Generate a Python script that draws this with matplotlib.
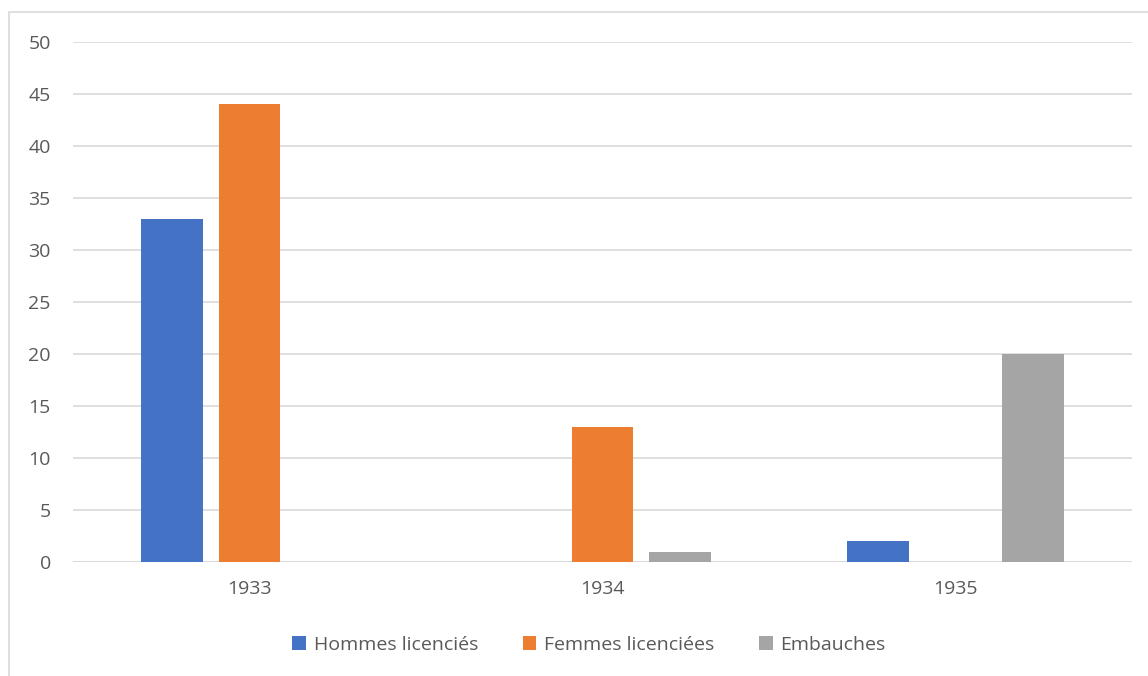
import numpy as np
import matplotlib.pyplot as plt
from matplotlib.patches import Rectangle

years = ['1933', '1934', '1935']
hommes = [33, 0, 2]
femmes = [44, 13, 0]
embauches = [0, 1, 20]
series_names = ['Hommes licenciés', 'Femmes licenciées', 'Embauches']
colors = ['#4472C4', '#ED7D31', '#A5A5A5']

plt.rcParams['font.family'] = ['Open Sans', 'DejaVu Sans']

W, H = 1148, 676
fig = plt.figure(figsize=(W / 100, H / 100), dpi=100)
ax = fig.add_axes([73 / W, 1 - 562 / H, (1132 - 73) / W, (562 - 42) / H])

# chart border
fig.patches.append(Rectangle((9 / W, -0.1), 1.2, 1.1 - 12 / H, transform=fig.transFigure,
                             fill=False, edgecolor='#D9D9D9', lw=1.2))

x = np.arange(len(years))
bw = 0.175
step = 0.22
for i, (vals, name, c) in enumerate(zip([hommes, femmes, embauches], series_names, colors)):
    ax.bar(x + (i - 1) * step, vals, width=bw, color=c, label=name, zorder=3)

ax.set_xlim(-0.5, 2.5)
ax.set_ylim(0, 50)
ax.set_yticks(range(0, 51, 5))
ax.set_xticks(x)
ax.set_xticklabels(years)
ax.grid(axis='y', color='#D9D9D9', lw=1.2, zorder=0)
for s in ax.spines.values():
    s.set_visible(False)
ax.axhline(0, color='#D9D9D9', lw=1.2, zorder=2)
ax.tick_params(length=0, labelsize=14, labelcolor='#595959')
ax.tick_params(axis='y', pad=16)
ax.tick_params(axis='x', pad=13)

fig.legend(loc='center', bbox_to_anchor=(589 / W, 1 - 645 / H), ncol=3, frameon=False,
           fontsize=14, labelcolor='#595959', handlelength=0.7, handleheight=0.7,
           handletextpad=0.4, columnspacing=2.3)

fig.savefig('out.png', dpi=100)
